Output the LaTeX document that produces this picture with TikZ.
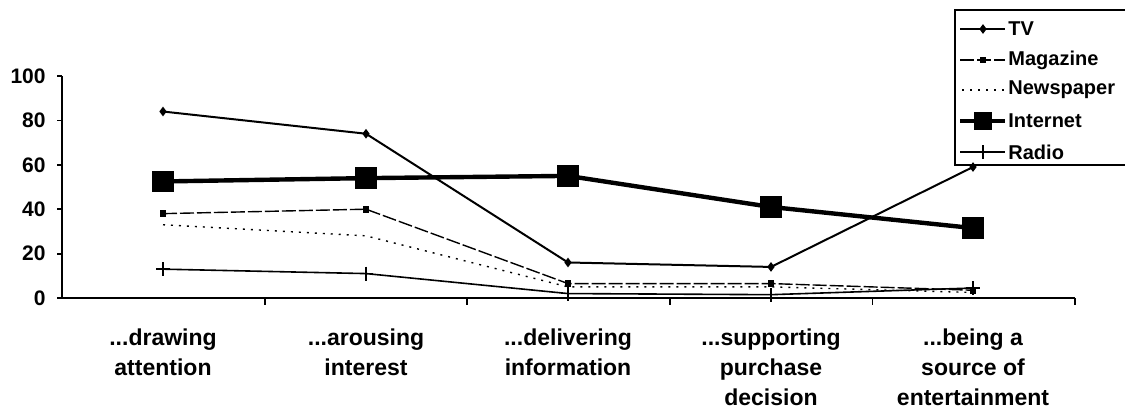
\documentclass[tikz,border=0pt]{standalone}
\usepackage{fontspec}
\setmainfont{Liberation Sans}
\usetikzlibrary{plotmarks}

\begin{document}
\begin{tikzpicture}[x=.5pt,y=.5pt,
        every node/.style={inner sep=0pt},
        axis line/.style={line width=.9pt},
        tick label/.style={font=\bfseries\fontsize{10.5}{12}\selectfont, anchor=east},
        cat label/.style={font=\bfseries\fontsize{11.5}{15}\selectfont, align=center, anchor=north},
        legend label/.style={font=\bfseries\fontsize{10}{12}\selectfont, anchor=west},
        tv line/.style={line width=1pt, mark=diamond*, mark size=1.6pt},
        mag line/.style={line width=.7pt, dash pattern=on 7pt off 1.5pt, mark=square*, mark size=1.3pt, mark options={solid}},
        news line/.style={line width=.7pt, dash pattern=on 1pt off 3pt},
        net line/.style={line width=2.2pt, mark=square*, mark size=4.3pt, mark options={solid}},
        radio line/.style={line width=.8pt, mark=+, mark size=3.5pt}]
        \useasboundingbox (0,0) rectangle (1125,409);

        % axes and data
        \begin{scope}[shift={(62,111)},y=1.11pt]
          \draw[axis line] (0,100) -- (0,0) -- (1013,0);
          \foreach \v in {0,20,...,100}{
            \draw[axis line] (0,\v) -- (-5,\v);
            \node[tick label] (ytick\v) at (-16,\v) {\v};
          }
          \foreach \i in {1,...,5}
            \draw[axis line] (202.6*\i,0) -- (202.6*\i,-3.2);

          \draw[radio line] plot coordinates {(101,13) (304,11) (506,2) (709,1.5) (911,4.5)};
          \draw[news line ] plot coordinates {(101,33) (304,28) (506,5) (709,5)   (911,2.5)};
          \draw[mag line  ] plot coordinates {(101,38) (304,40) (506,6.5) (709,6.5) (911,3.5)};
          \draw[net line  ] plot coordinates {(101,52.5) (304,54) (506,55) (709,41) (911,31.5)};
          \draw[tv line   ] plot coordinates {(101,84) (304,74) (506,16) (709,14) (911,59)};
        \end{scope}

        % category labels
        \foreach \x/\t [count=\n] in {163/{...drawing\\attention},
                                    366/{...arousing\\interest},
                                    568/{...delivering\\information},
                                    771/{...supporting\\purchase\\decision},
                                    973/{...being a\\source of\\entertainment}}
          \node[cat label] (cat\n) at (\x,81) {\t};

        % legend
        \draw[axis line] (1125,399) -- (955,399) -- (955,244) -- (1125,244);
        \draw[tv line,    mark indices={2}] plot coordinates {(960,380) (983,380) (1005,380)};
        \draw[mag line,   mark indices={2}] plot coordinates {(960,349) (983,349) (1005,349)};
        \draw[news line] (962,319) -- (1005,319);
        \draw[net line,   mark size=3.2pt, mark indices={2}] plot coordinates {(960,288) (983,288) (1005,288)};
        \draw[radio line, mark indices={2}] plot coordinates {(960,257) (983,257) (1005,257)};
        \node[legend label] (legTV)    at (1008,380) {TV};
        \node[legend label] (legMag)   at (1008,349) {Magazine};
        \node[legend label] (legNews)  at (1008,319) {Newspaper};
        \node[legend label] (legNet)   at (1008,288) {Internet};
        \node[legend label] (legRadio) at (1008,257) {Radio};
\end{tikzpicture}
\end{document}
